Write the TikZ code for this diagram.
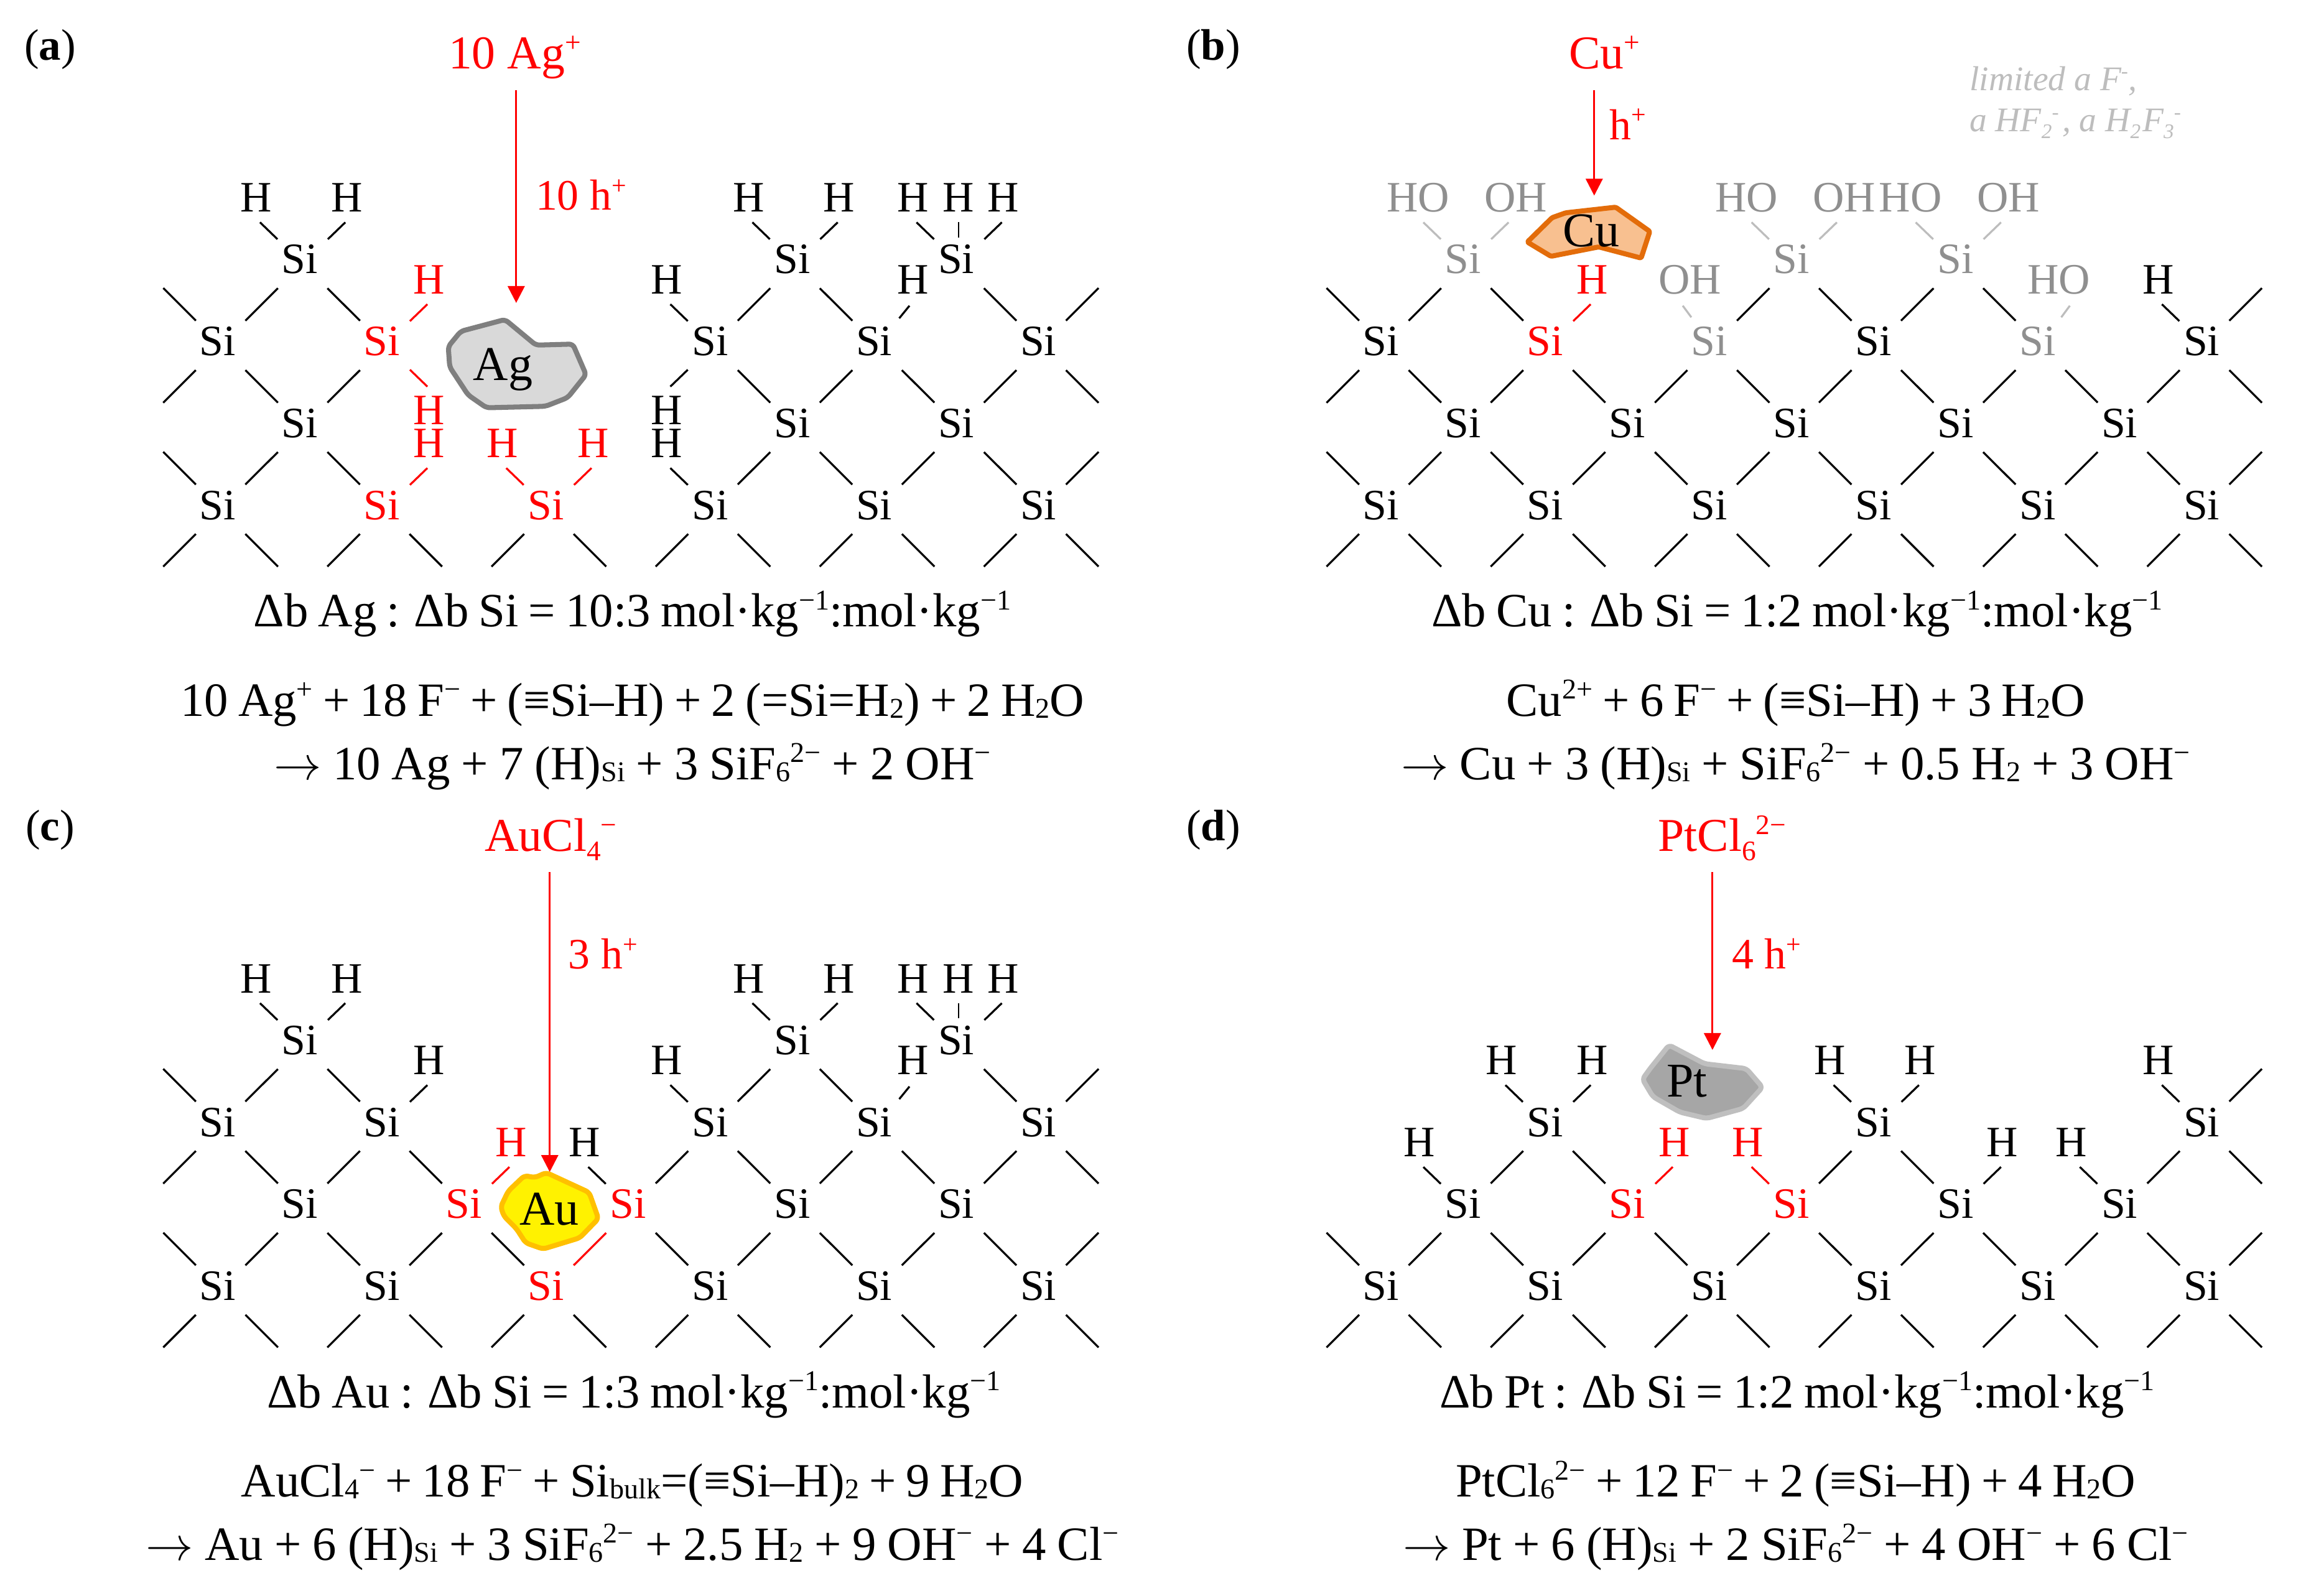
\documentclass[tikz,border=0pt]{standalone}
\usepackage{fontspec}
\setmainfont{Liberation Serif}
\usetikzlibrary{calc,arrows.meta}
\definecolor{hgray}{HTML}{8F8F8F}
\definecolor{bgray}{HTML}{BDBDBD}
\definecolor{cufill}{HTML}{F8C090}
\definecolor{culine}{HTML}{E36C0A}
\definecolor{auline}{HTML}{FFC000}
\definecolor{agfill}{HTML}{D9D9D9}
\definecolor{agline}{HTML}{7F7F7F}
\definecolor{ptfill}{HTML}{A6A6A6}
\definecolor{ptline}{HTML}{BFBFBF}
\makeatletter
\newcommand\rsz[2]{{\@tempdima=#1\dimexpr\f@size pt\relax\fontsize{\strip@pt\@tempdima}{\strip@pt\@tempdima}\selectfont #2}}
\makeatother
\newcommand\supt[1]{\raisebox{.36em}{\rsz{.6}{#1}}}
\newcommand\subt[1]{\raisebox{-.04em}{\rsz{.6}{#1}}}
\newcommand\lowt[1]{\raisebox{-.2em}{\rsz{.6}{#1}}}
\newcommand\eqfont{\fontsize{32.5}{34}\selectfont\spaceskip=.21em\relax}
\newcommand\eqfontb{\fontsize{32.5}{34}\selectfont\spaceskip=.235em\relax}
\newcommand\yields{\scalebox{1.3}{$\rightarrow$}}
\tikzset{
  x=1pt,y=-1pt,
  sinode/.style={circle,inner sep=0pt,minimum size=47.2pt,font=\fontsize{29.5}{31}\selectfont},
  hnode/.style={inner sep=0pt,text height=19pt,text depth=0pt,font=\fontsize{29.5}{31}\selectfont},
  bond/.style={line width=1.35pt,draw=black},
  ion/.style={inner sep=0pt,minimum height=48pt,text height=22.5pt,text depth=3pt,text=red,font=\fontsize{32}{34}\selectfont},
  holes/.style={inner sep=0pt,text height=19.5pt,text depth=0pt,text=red,font=\fontsize{29.5}{31}\selectfont},
  arr/.style={line width=1.35pt,draw=red,-{Triangle[length=11.5pt,width=11.5pt]}},
  eqn/.style={inner sep=0pt,anchor=base,font=\eqfont},
  eqnb/.style={inner sep=0pt,anchor=base,font=\eqfontb},
  tag/.style={inner sep=0pt,font=\fontsize{30}{32}\selectfont},
  metal/.style={inner sep=0pt,text height=21pt,text depth=0pt,font=\fontsize{33}{35}\selectfont},
  blob/.style={line width=3.4pt,rounded corners=2.5pt,line join=round},
  note/.style={inner sep=0pt,anchor=west,text=bgray,font=\fontsize{23.5}{25}\selectfont\itshape}
}
% Si atom at lattice position col,row of the current panel
\newcommand\SI[3][black]{\node[sinode,text=#1] (\P-#2-#3) at ({\xo+#2*55.8+2},{\yo+#3*55.7+2.6})
  {\raisebox{-6.9pt}[0pt][0pt]{\makebox[0pt]{\kern-4pt Si}}};}
% H (or OH) with its short bond: [colour]{col}{row}{bond end x}{bond end y}{label x}{label y}{text}
\newcommand\HB[8][black]{
  \node[hnode,text=#1] (\P-#2-#3-H#4#5) at ($(\P-#2-#3)+(#6-2,#7-2.6)$) {#8};
  \coordinate (\P-#2-#3-e#4#5) at ($(\P-#2-#3)+(#4,#5)$);
  \draw[bond,draw=#1] (\P-#2-#3) -- (\P-#2-#3-e#4#5);
}
\newcommand\HUL[4][black]{\HB[#1]{#2}{#3}{-29}{-28}{-29.5}{-42}{#4}}
\newcommand\HUR[4][black]{\HB[#1]{#2}{#3}{29}{-28}{32}{-42}{#4}}
\newcommand\HLL[4][black]{\HB[#1]{#2}{#3}{-29}{28}{-29.5}{46.8}{#4}}
\newcommand\HLR[4][black]{\HB[#1]{#2}{#3}{29}{28}{32}{46.8}{#4}}
% lattice bonds and free bonds
\newcommand\LINKS[1]{\foreach \ca/\ra/\cb/\rb in {#1}{\draw[bond] (\P-\ca-\ra) -- (\P-\cb-\rb);}}
\newcommand\FREE[1]{\foreach \ca/\ra/\sx/\sy in {#1}{
  \coordinate (\P-\ca-\ra-f\sx\sy) at ($(\P-\ca-\ra)+(\sx*39,\sy*39)$);
  \draw[bond] (\P-\ca-\ra) -- (\P-\ca-\ra-f\sx\sy);}}
% the three-H silicon and its neighbouring H
\newcommand\TRIH{
  \HB{9}{0}{-29}{-28}{-29.5}{-42}{H}
  \HB{9}{0}{29}{-28}{32}{-42}{H}
  \node[hnode] (\P-9-0-Hm) at ($(\P-9-0)+(-0.5,-44.6)$) {H};
  \coordinate (\P-9-0-m1) at ($(\P-9-0)+(-0.5,-17.6)$);
  \coordinate (\P-9-0-m2) at ($(\P-9-0)+(-0.5,-28)$);
  \draw[line width=.9pt] (\P-9-0-m1) -- (\P-9-0-m2);
  \HB{8}{1}{22}{-27}{26.5}{-42}{H}
}
\newcommand\HOg[5]{\HB[bgray]{#1}{#2}{#3}{#4}{#5}{-42}{\textcolor{hgray}{HO}}}
\newcommand\OHg[5]{\HB[bgray]{#1}{#2}{#3}{#4}{#5}{-42}{\textcolor{hgray}{OH}}}
\begin{document}
\begin{tikzpicture}
\useasboundingbox (0,0) rectangle (1568,1085);
\fill[white] (0,0) rectangle (1568,1085);
%%%%%%%%%% (a)
\def\P{a}\def\xo{148}\def\yo{176.6}
\foreach \c in {1,7,9}{\SI{\c}{0}}
\foreach \c in {0,6,8,10}{\SI{\c}{1}}
\SI[red]{2}{1}
\foreach \c in {1,7,9}{\SI{\c}{2}}
\foreach \c in {0,6,8,10}{\SI{\c}{3}}
\SI[red]{2}{3}\SI[red]{4}{3}
\LINKS{1/0/0/1,1/0/2/1,7/0/6/1,7/0/8/1,9/0/10/1,0/1/1/2,2/1/1/2,6/1/7/2,8/1/7/2,8/1/9/2,10/1/9/2,1/2/0/3,1/2/2/3,7/2/6/3,7/2/8/3,9/2/8/3,9/2/10/3}
\FREE{0/1/-1/-1,0/1/-1/1,10/1/1/-1,10/1/1/1,0/3/-1/-1,10/3/1/-1,0/3/-1/1,0/3/1/1,2/3/-1/1,2/3/1/1,4/3/-1/1,4/3/1/1,6/3/-1/1,6/3/1/1,8/3/-1/1,8/3/1/1,10/3/-1/1,10/3/1/1}
\HUL{1}{0}{H}\HUR{1}{0}{H}\HUL{7}{0}{H}\HUR{7}{0}{H}\TRIH
\HUR[red]{2}{1}{H}\HLR[red]{2}{1}{H}\HUL{6}{1}{H}\HLL{6}{1}{H}
\HUR[red]{2}{3}{H}\HUL[red]{4}{3}{H}\HUR[red]{4}{3}{H}\HUL{6}{3}{H}
\node[ion] (a-ion) at (350,37) {10 Ag\supt{+}};
\coordinate (a-tip) at (351,206);
\draw[arr] (a-ion.south -| a-tip) -- (a-tip);
\node[holes] (a-h) at (395,133) {10 h\supt{+}};
\draw[blob,draw=agline,fill=agfill] (304.8,235.7) -- (313.3,225.3) -- (343.4,217.3) -- (364.4,234.7) -- (389.5,234) -- (398.5,254.8) -- (386,270.4) -- (370.9,276.3) -- (330.8,277.3) -- (318.3,268.6) -- (305.8,249.6) -- cycle;
\node[metal] (a-m) at (342,248) {Ag};
\node[tag] (a-tag) at (34,33.5) {(\textbf{a})};
\node[eqn] (a-r) at (430,426.3) {Δb Ag : Δb Si = 10:3 mol·kg\supt{−1}:mol·kg\supt{−1}};
\node[eqn] (a-e1) at (430,487) {10 Ag\supt{+} + 18 F\supt{−} + (≡Si–H) + 2 (=Si=H\subt{2}) + 2 H\subt{2}O};
\node[eqnb] (a-e2) at (430,530) {\yields{} 10 Ag + 7 (H)\subt{Si} + 3 SiF\subt{6}\supt{2−} + 2 OH\supt{−}};
%%%%%%%%%% (b)
\def\P{b}\def\xo{939}\def\yo{176.6}
\foreach \c in {1,5,7}{\SI[hgray]{\c}{0}}
\foreach \c in {0,6,10}{\SI{\c}{1}}
\SI[red]{2}{1}\SI[hgray]{4}{1}\SI[hgray]{8}{1}
\foreach \c in {1,3,5,7,9}{\SI{\c}{2}}
\foreach \c in {0,2,4,6,8,10}{\SI{\c}{3}}
\LINKS{1/0/0/1,1/0/2/1,5/0/4/1,5/0/6/1,7/0/6/1,7/0/8/1,0/1/1/2,2/1/1/2,2/1/3/2,4/1/3/2,4/1/5/2,6/1/5/2,6/1/7/2,8/1/7/2,8/1/9/2,10/1/9/2,1/2/0/3,1/2/2/3,3/2/2/3,3/2/4/3,5/2/4/3,5/2/6/3,7/2/6/3,7/2/8/3,9/2/8/3,9/2/10/3}
\FREE{0/1/-1/-1,0/1/-1/1,10/1/1/-1,10/1/1/1,0/3/-1/-1,10/3/1/-1,0/3/-1/1,0/3/1/1,2/3/-1/1,2/3/1/1,4/3/-1/1,4/3/1/1,6/3/-1/1,6/3/1/1,8/3/-1/1,8/3/1/1,10/3/-1/1,10/3/1/1}
\HOg{1}{0}{-29}{-28}{-30.5}\OHg{1}{0}{29}{-28}{36}
\HOg{5}{0}{-29}{-28}{-30.5}\OHg{5}{0}{29}{-28}{36}
\HOg{7}{0}{-29}{-28}{-30.5}\OHg{7}{0}{29}{-28}{36}
\HUR[red]{2}{1}{H}
\OHg{4}{1}{-20}{-27}{-13}
\HOg{8}{1}{20}{-27}{14.5}
\HUL{10}{1}{H}
\node[ion] (b-ion) at (1091,37) {Cu\supt{+}};
\coordinate (b-tip) at (1084,133);
\draw[arr] (b-ion.south -| b-tip) -- (b-tip);
\node[holes] (b-h) at (1107,85) {h\supt{+}};
\draw[blob,draw=culine,fill=cufill,rounded corners=1pt] (1038.5,164.6) -- (1055.4,148) -- (1064.7,144.7) -- (1098.6,140.9) -- (1121.8,157.4) -- (1115.9,175.5) -- (1087.1,167.9) -- (1054.6,174.3) -- cycle;
\node[metal] (b-m) at (1082,157.3) {Cu};
\node[note] (b-n1) at (1339,55) {limited a F\supt{-},};
\node[note] (b-n2) at (1339,84) {a HF\lowt{2}\supt{-}\kern.1em, a H\lowt{2}\kern.05em F\lowt{3}\supt{-}};
\node[tag] (b-tag) at (825,33.5) {(\textbf{b})};
\node[eqn] (b-r) at (1222,426.3) {Δb Cu : Δb Si = 1:2 mol·kg\supt{−1}:mol·kg\supt{−1}};
\node[eqn] (b-e1) at (1221,487) {Cu\supt{2+} + 6 F\supt{−} + (≡Si–H) + 3 H\subt{2}O};
\node[eqnb] (b-e2) at (1221,530) {\yields{} Cu + 3 (H)\subt{Si} + SiF\subt{6}\supt{2−} + 0.5 H\subt{2} + 3 OH\supt{−}};
%%%%%%%%%% (c)
\def\P{c}\def\xo{148}\def\yo{707.6}
\foreach \c in {1,7,9}{\SI{\c}{0}}
\foreach \c in {0,2,6,8,10}{\SI{\c}{1}}
\foreach \c in {1,7,9}{\SI{\c}{2}}
\SI[red]{3}{2}\SI[red]{5}{2}
\foreach \c in {0,2,6,8,10}{\SI{\c}{3}}
\SI[red]{4}{3}
\LINKS{1/0/0/1,1/0/2/1,7/0/6/1,7/0/8/1,9/0/10/1,0/1/1/2,2/1/1/2,2/1/3/2,6/1/5/2,6/1/7/2,8/1/7/2,8/1/9/2,10/1/9/2,1/2/0/3,1/2/2/3,3/2/2/3,3/2/4/3,5/2/6/3,7/2/6/3,7/2/8/3,9/2/8/3,9/2/10/3}
\draw[bond,draw=red] (c-5-2) -- (c-4-3);
\FREE{0/1/-1/-1,0/1/-1/1,10/1/1/-1,10/1/1/1,0/3/-1/-1,10/3/1/-1,0/3/-1/1,0/3/1/1,2/3/-1/1,2/3/1/1,4/3/-1/1,4/3/1/1,6/3/-1/1,6/3/1/1,8/3/-1/1,8/3/1/1,10/3/-1/1,10/3/1/1}
\HUL{1}{0}{H}\HUR{1}{0}{H}\HUL{7}{0}{H}\HUR{7}{0}{H}\TRIH
\HUR{2}{1}{H}\HUL{6}{1}{H}\HUR[red]{3}{2}{H}\HUL{5}{2}{H}
\node[ion] (c-ion) at (374.5,569) {AuCl\lowt{4}\supt{−}};
\draw[blob,draw=auline,fill=yellow] (340.5,820.6) -- (345.6,810) -- (356.6,799.5) -- (363.8,800.8) -- (371.4,797.4) -- (400.6,810.9) -- (406.9,828.7) -- (394.2,841.8) -- (369.3,849.4) -- (357.4,845.2) -- (351.1,835.5) -- (342.6,827) -- cycle;
\coordinate (c-tip) at (373.8,797);
\draw[arr] (c-ion.south -| c-tip) -- (c-tip);
\node[holes] (c-h) at (410,649) {3 h\supt{+}};
\node[metal] (c-m) at (373.5,822.5) {Au};
\node[tag] (c-tag) at (34,564.5) {(\textbf{c})};
\node[eqn] (c-r) at (431,957.3) {Δb Au : Δb Si = 1:3 mol·kg\supt{−1}:mol·kg\supt{−1}};
\node[eqn] (c-e1) at (430,1018) {AuCl\subt{4}\supt{−} + 18 F\supt{−} + Si\subt{bulk}=(≡Si–H)\subt{2} + 9 H\subt{2}O};
\node[eqnb] (c-e2) at (430,1061) {\yields{} Au + 6 (H)\subt{Si} + 3 SiF\subt{6}\supt{2−} + 2.5 H\subt{2} + 9 OH\supt{−} + 4 Cl\supt{−}};
%%%%%%%%%% (d)
\def\P{d}\def\xo{939}\def\yo{707.6}
\foreach \c in {2,6,10}{\SI{\c}{1}}
\foreach \c in {1,7,9}{\SI{\c}{2}}
\SI[red]{3}{2}\SI[red]{5}{2}
\foreach \c in {0,2,4,6,8,10}{\SI{\c}{3}}
\LINKS{2/1/1/2,2/1/3/2,6/1/5/2,6/1/7/2,10/1/9/2,1/2/0/3,1/2/2/3,3/2/2/3,3/2/4/3,5/2/4/3,5/2/6/3,7/2/6/3,7/2/8/3,9/2/8/3,9/2/10/3}
\FREE{10/1/1/-1,10/1/1/1,0/3/-1/-1,10/3/1/-1,0/3/-1/1,0/3/1/1,2/3/-1/1,2/3/1/1,4/3/-1/1,4/3/1/1,6/3/-1/1,6/3/1/1,8/3/-1/1,8/3/1/1,10/3/-1/1,10/3/1/1}
\HUL{2}{1}{H}\HUR{2}{1}{H}\HUL{6}{1}{H}\HUR{6}{1}{H}\HUL{10}{1}{H}
\HUL{1}{2}{H}\HUR[red]{3}{2}{H}\HUL[red]{5}{2}{H}\HUR{7}{2}{H}\HB{9}{2}{-29}{-28}{-33}{-42}{H}
\node[ion] (d-ion) at (1171,569) {PtCl\lowt{6}\supt{2−}};
\coordinate (d-tip) at (1164.4,714);
\draw[arr] (d-ion.south -| d-tip) -- (d-tip);
\node[holes] (d-h) at (1201,649) {4 h\supt{+}};
\draw[blob,draw=ptline,fill=ptfill] (1116.8,733.9) -- (1122.3,726.3) -- (1134.9,710.7) -- (1159,723.4) -- (1187.4,726.7) -- (1198.4,739.4) -- (1185.3,753.8) -- (1160.4,760.6) -- (1142.2,756.3) -- (1123.9,745.8) -- cycle;
\node[metal] (d-m) at (1147,735.5) {Pt};
\node[tag] (d-tag) at (825,564.5) {(\textbf{d})};
\node[eqn] (d-r) at (1222,957.3) {Δb Pt : Δb Si = 1:2 mol·kg\supt{−1}:mol·kg\supt{−1}};
\node[eqn] (d-e1) at (1221,1018) {PtCl\subt{6}\supt{2−} + 12 F\supt{−} + 2 (≡Si–H) + 4 H\subt{2}O};
\node[eqnb] (d-e2) at (1221,1061) {\yields{} Pt + 6 (H)\subt{Si} + 2 SiF\subt{6}\supt{2−} + 4 OH\supt{−} + 6 Cl\supt{−}};
\end{tikzpicture}
\end{document}
